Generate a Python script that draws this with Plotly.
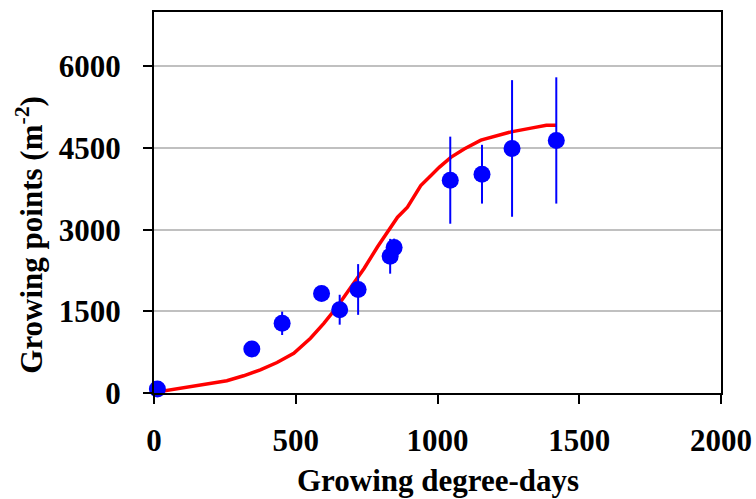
import plotly.graph_objects as go

# Observed growing points
obs_gdd = [12, 345, 452, 591, 655, 720, 833, 847, 1045, 1157, 1263, 1419]
obs_gp = [75, 810, 1280, 1829, 1530, 1902, 2512, 2671, 3910, 4020, 4493, 4640]
obs_err = [40, 60, 215, 80, 275, 466, 320, 165, 800, 540, 1255, 1160]

# Simulated curve
sim_gdd = [12, 39, 92, 139, 198, 257, 316, 375, 434, 493, 552, 599, 646, 694,
           741, 788, 823, 859, 894, 941, 977, 1006, 1047, 1094, 1153, 1260,
           1330, 1384, 1419]
sim_gp = [20, 42, 91, 121, 170, 225, 316, 426, 560, 731, 1006, 1280, 1585, 1950,
          2287, 2682, 2957, 3230, 3413, 3811, 3994, 4146, 4329, 4482, 4646, 4798,
          4866, 4920, 4920]

x_ticks = [0, 500, 1000, 1500, 2000]
y_ticks = [0, 1500, 3000, 4500, 6000]

FONT = "Liberation Serif"

fig = go.Figure()
fig.add_trace(go.Scatter(
    x=sim_gdd, y=sim_gp, mode="lines",
    line=dict(color="#FF0000", width=3.5), showlegend=False))
fig.add_trace(go.Scatter(
    x=obs_gdd, y=obs_gp, mode="markers",
    marker=dict(color="#0000FF", size=17),
    error_y=dict(type="data", array=obs_err, color="#0000FF", thickness=2, width=0),
    cliponaxis=False, showlegend=False))

fig.update_layout(
    width=756, height=499,
    margin=dict(l=154, r=35, t=12, b=106),
    paper_bgcolor="white", plot_bgcolor="white",
    font=dict(family=FONT, size=31, color="black", weight="bold"),
    xaxis=dict(range=[0, 2000], tickvals=x_ticks, ticktext=[str(v) for v in x_ticks],
               showgrid=False, zeroline=False, showline=True, linecolor="black",
               linewidth=2, mirror=True, ticks="outside", ticklen=9, tickwidth=2,
               tickcolor="black", ticklabelstandoff=10, automargin=False,
               tickfont=dict(family=FONT, size=31, weight="bold")),
    yaxis=dict(range=[0, 7000], tickvals=y_ticks, ticktext=[str(v) for v in y_ticks],
               showgrid=True, gridcolor="#C0C0C0", gridwidth=2, zeroline=False,
               showline=True, linecolor="black", linewidth=2, mirror=True,
               ticks="outside", ticklen=9, tickwidth=2, tickcolor="black",
               ticklabelstandoff=16, automargin=False,
               tickfont=dict(family=FONT, size=31, weight="bold")),
    annotations=[
        dict(text="Growing degree-days", xref="paper", yref="paper",
             x=0.5, y=-0.23, xanchor="center", yanchor="middle", showarrow=False,
             font=dict(family=FONT, size=31, weight="bold")),
        dict(text="Growing points (m<sup>-2</sup>)", xref="paper", yref="paper",
             x=(30 - 154) / 567, y=(393.3 - 235) / 381, xanchor="center",
             yanchor="middle", textangle=-90, showarrow=False,
             font=dict(family=FONT, size=31, weight="bold")),
    ],
)

fig.write_html("out.html")
